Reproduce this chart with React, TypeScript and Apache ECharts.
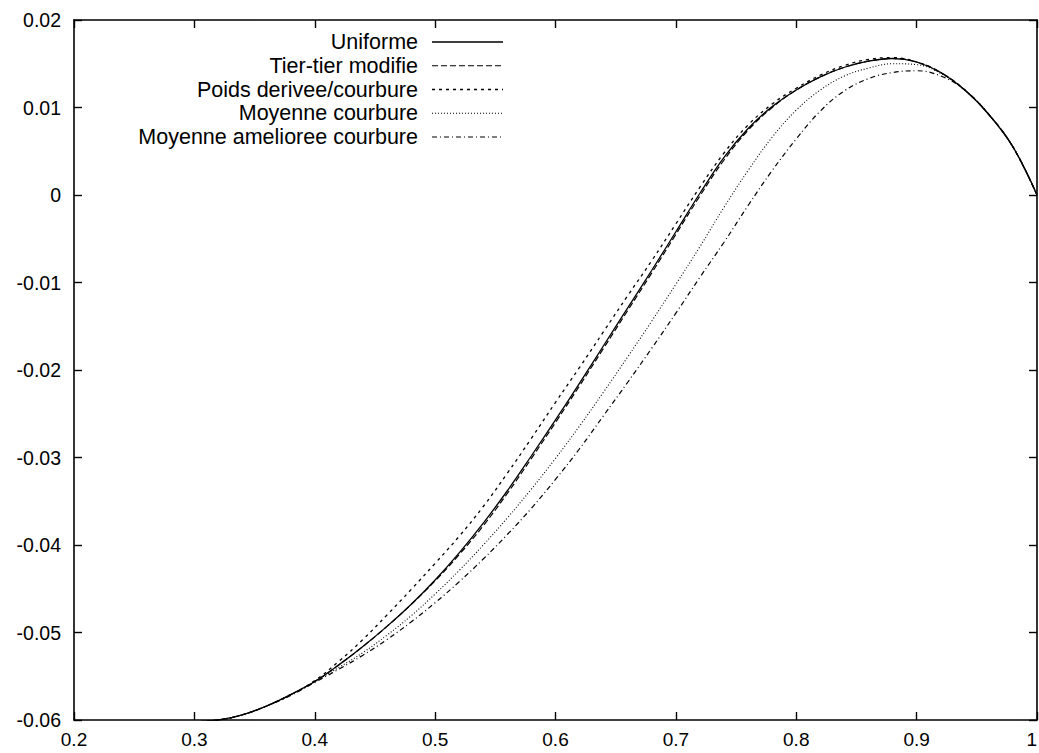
import React, { useEffect, useRef } from "react";
import * as echarts from "echarts";

const xs = [0.30, 0.32, 0.34, 0.36, 0.38, 0.40, 0.42, 0.44, 0.46, 0.48, 0.50, 0.52, 0.54, 0.56, 0.58, 0.60, 0.62, 0.64, 0.66, 0.68, 0.70, 0.72, 0.74, 0.76, 0.78, 0.80, 0.82, 0.84, 0.86, 0.88, 0.90, 0.92, 0.94, 0.96, 0.98, 1.00];

const uniforme = [-0.0602, -0.0600, -0.0594, -0.0584, -0.0571, -0.0556, -0.0537, -0.0516, -0.0493, -0.0468, -0.0440, -0.0409, -0.0375, -0.0338, -0.0298, -0.0257, -0.0215, -0.0172, -0.0129, -0.0086, -0.0042, 0.0002, 0.0043, 0.0076, 0.0101, 0.0120, 0.0135, 0.0146, 0.0153, 0.0156, 0.0152, 0.0140, 0.0120, 0.0092, 0.0055, 0.0000];

const tierTier = [-0.0602, -0.0600, -0.0594, -0.0584, -0.0571, -0.0556, -0.0537, -0.0516, -0.0493, -0.0468, -0.0441, -0.0411, -0.0378, -0.0341, -0.0301, -0.0260, -0.0218, -0.0175, -0.0132, -0.0089, -0.0045, -0.0001, 0.0040, 0.0074, 0.0100, 0.0120, 0.0135, 0.0146, 0.0153, 0.0156, 0.0152, 0.0140, 0.0120, 0.0092, 0.0055, 0.0000];

const poids = [-0.0602, -0.0600, -0.0594, -0.0584, -0.0571, -0.0555, -0.0533, -0.0508, -0.0480, -0.0451, -0.0421, -0.0390, -0.0356, -0.0318, -0.0278, -0.0237, -0.0197, -0.0156, -0.0115, -0.0075, -0.0033, 0.0009, 0.0048, 0.0080, 0.0104, 0.0122, 0.0137, 0.0148, 0.0155, 0.0157, 0.0152, 0.0140, 0.0120, 0.0092, 0.0055, 0.0000];

const moyenne = [-0.0602, -0.0600, -0.0594, -0.0584, -0.0571, -0.0556, -0.0540, -0.0523, -0.0503, -0.0481, -0.0456, -0.0429, -0.0400, -0.0369, -0.0336, -0.0301, -0.0264, -0.0225, -0.0185, -0.0144, -0.0102, -0.0059, -0.0014, 0.0028, 0.0066, 0.0097, 0.0120, 0.0136, 0.0145, 0.0150, 0.0149, 0.0139, 0.0120, 0.0092, 0.0055, 0.0000];

const amelioree = [-0.0602, -0.0600, -0.0594, -0.0584, -0.0572, -0.0557, -0.0542, -0.0526, -0.0508, -0.0488, -0.0466, -0.0442, -0.0416, -0.0388, -0.0358, -0.0325, -0.0290, -0.0252, -0.0214, -0.0175, -0.0135, -0.0094, -0.0054, -0.0012, 0.0028, 0.0064, 0.0096, 0.0119, 0.0133, 0.0140, 0.0142, 0.0136, 0.0120, 0.0092, 0.0055, 0.0000];

const seriesNames = ["Uniforme", "Tier-tier modifie", "Poids derivee/courbure", "Moyenne courbure", "Moyenne amelioree courbure"];
const seriesValues = [uniforme, tierTier, poids, moyenne, amelioree];
const dashes: (number[] | string)[] = ["solid", [6, 3], [3, 4], [1, 2], [5, 3, 1, 3]];
const widths = [1.3, 1.2, 1.3, 1.1, 1.2];

const FONT = "'Liberation Sans', Arial, Helvetica, sans-serif";

export default function App() {
  const ref = useRef<HTMLDivElement>(null);
  useEffect(() => {
    if (!ref.current) return;
    const chart = echarts.init(ref.current, undefined, { renderer: "svg" });
    const axisCommon = {
      type: "value" as const,
      axisLine: { show: true, onZero: false, lineStyle: { color: "#000", width: 1.6 } },
      axisTick: { show: true, inside: true, length: 8, lineStyle: { color: "#000", width: 1.4 } },
      splitLine: { show: false },
    };
    const legendRowY = (i: number) => 42 + i * 23.75;
    const graphics: any[] = [];
    seriesNames.forEach((n, i) => {
      graphics.push({
        type: "text",
        x: 418,
        y: legendRowY(i),
        style: { text: n, font: `21.5px ${FONT}`, fill: "#000", align: "right", verticalAlign: "middle" },
      });
      graphics.push({
        type: "line",
        shape: { x1: 432, y1: legendRowY(i), x2: 503, y2: legendRowY(i) },
        style: {
          stroke: "#000",
          lineWidth: widths[i],
          lineDash: dashes[i] === "solid" ? null : (dashes[i] as number[]),
        },
      });
    });
    chart.setOption({
      animation: false,
      backgroundColor: "#fff",
      grid: { left: 74, right: 2, top: 20, bottom: 33, containLabel: false, outerBoundsMode: "none" },
      xAxis: [
        {
          ...axisCommon,
          position: "bottom",
          min: 0.2,
          max: 1,
          interval: 0.1,
          axisLabel: {
            show: true,
            color: "#000",
            fontSize: 19,
            fontFamily: FONT,
            margin: 9,
            lineHeight: 20,
            hideOverlap: false,
            alignMaxLabel: "right",
            formatter: (v: number) => String(Math.round(v * 10) / 10),
          },
        },
        {
          ...axisCommon,
          position: "top",
          min: 0.2,
          max: 1,
          interval: 0.1,
          axisLabel: { show: false },
        },
      ],
      yAxis: [
        {
          ...axisCommon,
          position: "left",
          min: -0.06,
          max: 0.02,
          interval: 0.01,
          axisLabel: {
            show: true,
            color: "#000",
            fontSize: 19.5,
            fontFamily: FONT,
            margin: 13,
            formatter: (v: number) => String(Math.round(v * 100) / 100),
          },
        },
        {
          ...axisCommon,
          position: "right",
          min: -0.06,
          max: 0.02,
          interval: 0.01,
          axisLabel: { show: false },
        },
      ],
      graphic: graphics,
      series: seriesNames.map((name, i) => ({
        name,
        type: "line",
        xAxisIndex: 0,
        yAxisIndex: 0,
        data: xs.map((x, j) => [x, seriesValues[i][j]]),
        smooth: 0.4,
        showSymbol: false,
        symbol: "none",
        clip: true,
        z: 10 - i,
        lineStyle: { color: "#000", width: widths[i], type: dashes[i] as any },
      })),
    });
    return () => chart.dispose();
  }, []);
  return (
    <div
      ref={ref}
      style={{ position: "fixed", left: 0, top: 0, width: 1039, height: 753, background: "#fff" }}
    />
  );
}
